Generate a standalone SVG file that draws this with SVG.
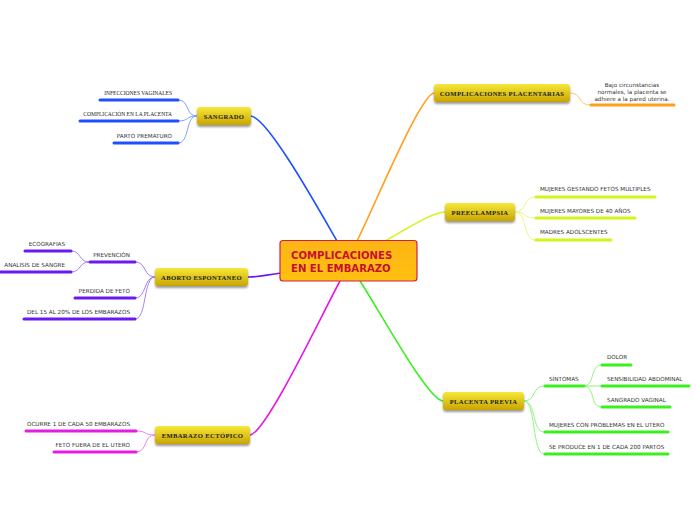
<svg xmlns="http://www.w3.org/2000/svg" width="696" height="520" viewBox="0 0 696 520">
<defs>
<linearGradient id="yg" x1="0" y1="0" x2="0" y2="1">
<stop offset="0" stop-color="#F7E83A"/>
<stop offset="1" stop-color="#C9A500"/>
</linearGradient>
<linearGradient id="cg" x1="0" y1="0" x2="0" y2="1">
<stop offset="0" stop-color="#FDB515"/>
<stop offset="1" stop-color="#FFC010"/>
</linearGradient>
<filter id="sh" x="-20%" y="-30%" width="140%" height="180%">
<feGaussianBlur in="SourceAlpha" stdDeviation="1"/>
<feOffset dx="0" dy="1.5"/>
<feComponentTransfer><feFuncA type="linear" slope="0.4"/></feComponentTransfer>
<feMerge><feMergeNode/><feMergeNode in="SourceGraphic"/></feMerge>
</filter>
</defs>
<style>
.main rect{fill:url(#yg);filter:url(#sh);}
.main text{font-family:"Liberation Serif",serif;font-weight:bold;font-size:6.6px;fill:#222;letter-spacing:0.35px;}
.sub{font-family:"DejaVu Sans",sans-serif;font-size:5.65px;fill:#333;}
.ser{font-family:"Liberation Serif",serif;font-size:5.5px;fill:#222;}
.ul{stroke-width:3;stroke-linecap:round;fill:none;}
.c{fill:none;stroke-width:1;}
.m{fill:none;stroke-width:1.6;}
</style>

<g id="connectors">
<path class="m" stroke="#1E50FF" d="M337,241 C318,208 268,118 251,116"/>
<path class="m" stroke="#FF9F1A" d="M357,241 C375,205 420,95 434,93"/>
<path class="m" stroke="#D4F51A" d="M385,241 C405,230 432,212 445,212"/>
<path class="m" stroke="#6A1AF0" d="M281,273 C265,275 260,277 248,277"/>
<path class="m" stroke="#3CF020" d="M360,281 C382,315 428,400 443,401"/>
<path class="m" stroke="#E51AE5" d="M340,281 C320,318 266,433 250,435"/>

<path class="c" stroke="#7FA0FF" d="M197,116 C185,116 190,100 178,100"/>
<path class="c" stroke="#7FA0FF" d="M197,116 C185,116 190,121 178,121"/>
<path class="c" stroke="#7FA0FF" d="M197,116 C185,116 190,143 178,143"/>

<path class="c" stroke="#FFC06A" d="M570,93 C582,93 578,105 590,105"/>

<path class="c" stroke="#E8FA80" d="M515,212 C527,212 523,197 535,197"/>
<path class="c" stroke="#E8FA80" d="M515,212 C527,212 523,218 535,218"/>
<path class="c" stroke="#E8FA80" d="M515,212 C527,212 523,240 535,240"/>

<path class="c" stroke="#A680F5" d="M155,277 C143,277 147,262 135,262"/>
<path class="c" stroke="#A680F5" d="M155,277 C143,277 147,298 135,298"/>
<path class="c" stroke="#A680F5" d="M155,277 C143,277 147,319 135,319"/>
<path class="c" stroke="#A680F5" d="M89,262 C79,262 81,251 71,251"/>
<path class="c" stroke="#A680F5" d="M89,262 C79,262 81,272 71,272"/>

<path class="c" stroke="#F080F0" d="M155,435 C143,435 148,431 136,431"/>
<path class="c" stroke="#F080F0" d="M155,435 C143,435 148,452 136,452"/>

<path class="c" stroke="#90F580" d="M524,401 C536,401 532,386 544,386"/>
<path class="c" stroke="#90F580" d="M524,401 C536,401 532,432 544,432"/>
<path class="c" stroke="#90F580" d="M524,401 C536,401 532,454 544,454"/>
<path class="c" stroke="#90F580" d="M584,386 C595,386 590,365 601,365"/>
<path class="c" stroke="#90F580" d="M584,386 L601,386"/>
<path class="c" stroke="#90F580" d="M584,386 C595,386 590,407 601,407"/>
</g>

<g id="central">
<rect x="280" y="240.5" width="137" height="40.5" rx="3" fill="url(#cg)" stroke="#D0204A" stroke-width="1.2"/>
<text x="291" y="259" font-family="DejaVu Sans, sans-serif" font-weight="bold" font-size="10.1" fill="#C8102E">COMPLICACIONES</text>
<text x="291" y="272" font-family="DejaVu Sans, sans-serif" font-weight="bold" font-size="10.1" fill="#C8102E">EN EL EMBARAZO</text>
</g>

<g id="sangrado" class="main">
<rect x="197" y="107" width="54" height="18" rx="3"/>
<text x="224" y="118.5" text-anchor="middle">SANGRADO</text>
</g>
<g id="sangrado-children">
<text class="ser" x="172" y="95" text-anchor="end">INFECCIONES VAGINALES</text>
<path class="ul" stroke="#1E50FF" d="M100,100 H178"/>
<text class="ser" x="172" y="116" text-anchor="end">COMPLICACIÓN EN LA PLACENTA</text>
<path class="ul" stroke="#1E50FF" d="M80,121 H178"/>
<text class="sub" x="172" y="138" text-anchor="end">PARTO PREMATURO</text>
<path class="ul" stroke="#1E50FF" d="M114,143 H178"/>
</g>

<g id="complicaciones-placentarias" class="main">
<rect x="434" y="84" width="136" height="18" rx="3"/>
<text x="502" y="95.5" text-anchor="middle">COMPLICACIONES PLACENTARIAS</text>
</g>
<g id="placentarias-child">
<text class="sub" x="632" y="87" text-anchor="middle">Bajo circunstancias</text>
<text class="sub" x="632" y="94" text-anchor="middle">normales, la placenta se</text>
<text class="sub" x="632" y="101" text-anchor="middle">adhiere a la pared uterina.</text>
<path class="ul" stroke="#FF9F1A" d="M591,105 H674"/>
</g>

<g id="preeclampsia" class="main">
<rect x="445" y="203" width="70" height="18" rx="3"/>
<text x="480" y="214.5" text-anchor="middle">PREECLAMPSIA</text>
</g>
<g id="preeclampsia-children">
<text class="sub" x="540" y="191">MUJERES GESTANDO FETOS MULTIPLES</text>
<path class="ul" stroke="#D4F51A" d="M536,197 H655"/>
<text class="sub" x="540" y="213">MUJERES MAYORES DE 40 AÑOS</text>
<path class="ul" stroke="#D4F51A" d="M536,218 H635"/>
<text class="sub" x="540" y="234">MADRES ADOLSCENTES</text>
<path class="ul" stroke="#D4F51A" d="M536,240 H611"/>
</g>

<g id="aborto-espontaneo" class="main">
<rect x="155" y="268" width="93" height="18" rx="3"/>
<text x="201.5" y="279.5" text-anchor="middle">ABORTO ESPONTANEO</text>
</g>
<g id="aborto-children">
<text class="sub" x="130" y="257" text-anchor="end">PREVENCIÓN</text>
<path class="ul" stroke="#6A1AF0" d="M90,262 H135"/>
<text class="sub" x="65" y="246" text-anchor="end">ECOGRAFIAS</text>
<path class="ul" stroke="#6A1AF0" d="M25,251 H71"/>
<text class="sub" x="65" y="267" text-anchor="end">ANALISIS DE SANGRE</text>
<path class="ul" stroke="#6A1AF0" d="M0,272 H71"/>
<text class="sub" x="130" y="293" text-anchor="end">PERDIDA DE FETO</text>
<path class="ul" stroke="#6A1AF0" d="M75,298 H135"/>
<text class="sub" x="130" y="314" text-anchor="end">DEL 15 AL 20% DE LOS EMBARAZOS</text>
<path class="ul" stroke="#6A1AF0" d="M24,319 H135"/>
</g>

<g id="placenta-previa" class="main">
<rect x="443" y="392" width="81" height="18" rx="3"/>
<text x="483.5" y="403.5" text-anchor="middle">PLACENTA PREVIA</text>
</g>
<g id="previa-children">
<text class="sub" x="549" y="381">SÍNTOMAS</text>
<path class="ul" stroke="#3CF020" d="M545,386 H584"/>
<text class="sub" x="607" y="359">DOLOR</text>
<path class="ul" stroke="#3CF020" d="M602,365 H631"/>
<text class="sub" x="607" y="381">SENSIBILIDAD ABDOMINAL</text>
<path class="ul" stroke="#3CF020" d="M602,386 H689"/>
<text class="sub" x="607" y="402">SANGRADO VAGINAL</text>
<path class="ul" stroke="#3CF020" d="M602,407 H670"/>
<text class="sub" x="549" y="427">MUJERES CON PROBLEMAS EN EL UTERO</text>
<path class="ul" stroke="#3CF020" d="M545,432 H668"/>
<text class="sub" x="549" y="449">SE PRODUCE EN 1 DE CADA 200 PARTOS</text>
<path class="ul" stroke="#3CF020" d="M545,454 H668"/>
</g>

<g id="embarazo-ectopico" class="main">
<rect x="155" y="426" width="95" height="18" rx="3"/>
<text x="202.5" y="437.5" text-anchor="middle">EMBARAZO ECTÓPICO</text>
</g>
<g id="ectopico-children">
<text class="sub" x="130" y="426" text-anchor="end">OCURRE 1 DE CADA 50 EMBARAZOS</text>
<path class="ul" stroke="#E51AE5" d="M26,431 H136"/>
<text class="sub" x="130" y="447" text-anchor="end">FETO FUERA DE EL UTERO</text>
<path class="ul" stroke="#E51AE5" d="M54,452 H136"/>
</g>
</svg>
